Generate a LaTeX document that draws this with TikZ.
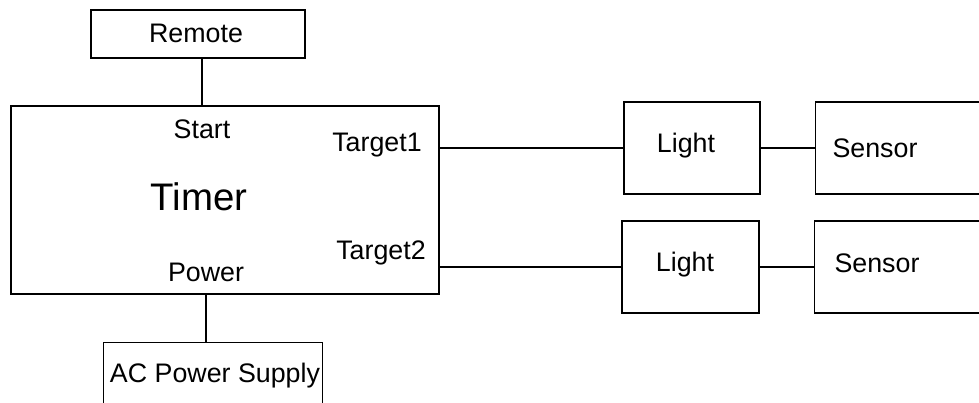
\documentclass[tikz,border=0pt]{standalone}
\usepackage{fontspec}
\setmainfont{Liberation Sans}
\tikzset{
  blk/.style={rectangle,draw,line width=0.7pt,inner sep=0pt},
  lbl/.style={inner sep=0pt,font=\fontsize{13.4}{16}\selectfont},
}
\begin{document}
\begin{tikzpicture}[x=0.5pt,y=-0.5pt,line width=0.7pt]
          \useasboundingbox (0,0) rectangle (979,402);
          \clip (0,0) rectangle (979,402);
          \node[blk,minimum width=107pt,minimum height=24pt] (Remote) at (198,34) {};
          \node[lbl] (remtxt) at (196,33) {Remote};
          \node[blk,minimum width=214pt,minimum height=94pt] (Timer) at (225,200) {};
          \node[lbl] (start) at (202,129) {Start};
          \node[lbl] (tgt1) at (377,145) {Target1};
          \node[inner sep=0pt,font=\fontsize{19.2}{23}\selectfont] (timerlbl) at (199,197) {Timer};
          \node[lbl] (tgt2) at (381,253) {Target2};
          \node[lbl] (power) at (206,272) {Power};
          \node[blk,anchor=north west,minimum width=109.5pt,minimum height=40pt] (AC) at (103,342) {};
          \node[lbl] (actxt) at (215,376) {AC Power Supply};
          \node[blk,minimum width=68pt,minimum height=46pt] (light1) at (692,148) {};
          \node[blk,minimum width=68.5pt,minimum height=46pt] (light2) at (690.5,267) {};
          \node[lbl] (light1txt) at (686,146) {Light};
          \node[lbl] (light2txt) at (685,265) {Light};
          \node[blk,anchor=west,minimum width=150pt,minimum height=46pt] (sensor1) at (815,148) {};
          \node[blk,anchor=west,minimum width=150pt,minimum height=46pt] (sensor2) at (814,267) {};
          \node[lbl] (sens1txt) at (875,148) {Sensor};
          \node[lbl] (sens2txt) at (877,263) {Sensor};
          \draw (Remote.south -| start)--(Timer.north -| start) (Timer.south -| power)--(AC.north -| power) (Timer.east |- light1)--(light1.west) (light1.east)--(light1.east -| sensor1.west) (Timer.east |- light2)--(light2.west) (light2.east)--(light2.east -| sensor2.west);
          \end{tikzpicture}
\end{document}
